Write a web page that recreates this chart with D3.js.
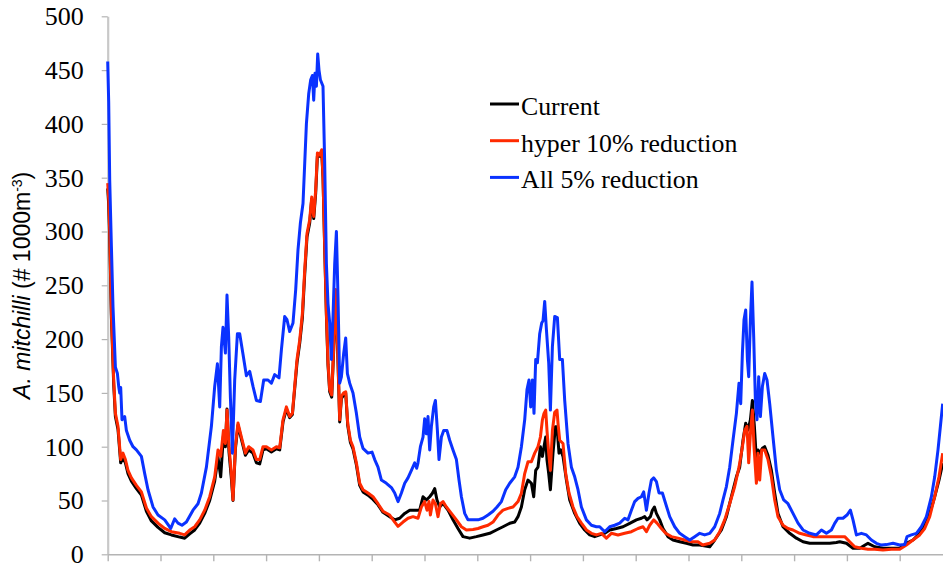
<!DOCTYPE html>
<html lang="en">
<head>
<meta charset="UTF-8">
<title>A. mitchilli</title>
<script src="https://cdn.jsdelivr.net/npm/d3@7"></script>
<style>
  body { margin: 0; background: #fff; }
  svg { display: block; }
</style>
</head>
<body>
<script>
// t = sample position along the run (unlabelled x axis), v = # per 1000 m^3
const current = [
  [0,340],[1,325],[2,295],[3.7,220],[6,158],[7.7,128],[10.3,116],[13,85],[15.3,90],[17.7,85],[20.3,75],[23.7,68],[28.7,61],[33.7,55],[38.7,40],[43.7,31],[50.3,25],[57,20],[63.7,18],[72,16],[77,15],[82,19],[87,22.6],[92,29],[97,38],[102,50],[107,68],[110.3,90],[113,72],[115.7,110],[117.7,100],[119.3,135],[121.3,95],[123.7,70],[125.3,50],[127.7,98],[130.3,120],[133.7,107],[137.7,92],[141,97],[145.3,94],[148.7,85],[152,84],[155.3,97],[158.7,98],[163.7,95],[168.7,98],[172,97],[175.3,123],[178.7,135],[182,127],[184.7,130],[187,154],[189.3,178],[192,196],[194.7,220],[197,260],[199.3,295],[202,308],[204,330],[206,312],[208,336],[209.7,370],[212,370],[214,374],[215.3,350],[217,284],[218.7,222],[220.3,176],[222,151],[224,146],[226,190],[228,244],[230,188],[232,123],[233.7,145],[236,148],[238,150],[240,120],[242.7,104],[245.3,98],[248.7,83],[252,64],[255.3,58],[260.3,55],[265.3,51],[270.3,46],[275.3,39],[282,35],[287,32],[292,33.5],[297,38],[302,41],[307,41],[312,41],[315.3,53.5],[318.7,50.5],[322,53.5],[324.7,56.7],[327,61],[329.3,50.5],[332,44],[335.3,47.4],[340.3,41],[345.3,32],[350.3,24],[355.3,16.4],[362,15],[368.7,16.4],[375.3,18],[382,19.5],[388.7,22.6],[395.3,25.6],[402,28.8],[407,30],[410.3,35],[413.7,44],[417,60],[420.3,69],[423.7,66],[426,53.5],[428,78],[430.3,81],[432.7,100],[434.7,91],[436.3,100],[438,109],[439.3,87.6],[441,75],[442.7,60],[445.3,94],[447.7,118.6],[449.3,118.6],[451.3,94],[453,97],[455.3,91],[458.7,69],[462,50.5],[467,38],[472,28.8],[477,22.6],[482,18],[487,16.4],[492,18],[497,19.5],[502,22.6],[508.7,24],[515.3,25.6],[522,28.8],[528.7,32],[533.7,33.5],[537,35],[539.3,32],[542.7,35],[544.7,41],[546.7,44],[548.7,38],[552,32],[555.3,24],[560.3,16.4],[565.3,13.3],[572,11.7],[578.7,10.2],[585.3,8.6],[592,8.6],[602,7],[607,13.3],[613.7,22.6],[618.7,35],[623.7,53.5],[628.7,72],[632,81],[635.3,106],[638,121.7],[640.3,115.5],[642.7,125],[644.7,143],[646.7,118.6],[648.7,87.6],[650.3,97],[652,94],[654.7,98.5],[657,100],[660.3,92],[663.7,78],[667,56.7],[670.3,38],[675.3,25.6],[682,19.5],[688.7,15],[695.3,11.7],[702,10.2],[712,10.2],[722,10.2],[728.7,11],[732,11.7],[738.7,10.2],[745.3,5.6],[752,5.6],[760.3,10.2],[767,7],[775.3,5.6],[783.7,5.6],[792,5.6],[798.7,10.2],[805.3,13.3],[812,19.5],[817,27],[822,38],[827,53.5],[831.3,69],[835,84.6]
];

const hyper10 = [
  [0,345],[1,330],[2,300],[3.7,224],[6,162],[7.7,131],[10.3,119],[13,88],[15.3,94],[17.7,88],[20.3,78],[23.7,71],[28.7,64],[33.7,58],[38.7,43],[43.7,35],[50.3,29],[57,24],[63.7,21],[72,19.5],[77,18],[82,22.6],[87,25.6],[92,32],[97,41],[102,53.5],[107,72],[110.3,97],[113,91],[115.7,115],[117.7,103],[119.3,134],[121.3,100],[123.7,75],[125.3,50.5],[127.7,100],[130.3,122],[133.7,109],[137.7,94],[141,100],[145.3,97],[148.7,88],[152,88],[155.3,100],[158.7,100],[163.7,97],[168.7,100],[172,99],[175.3,125],[178.7,137],[182,128],[184.7,131],[187,156],[189.3,181],[192,199],[194.7,224],[197,264],[199.3,298],[202,311],[204,332],[206,314],[208,339],[209.7,373],[212,371],[214,376],[215.3,351],[217,286],[218.7,224],[220.3,178],[222,153],[224,148],[226,193],[228,246],[230,190],[232,125],[233.7,147],[236,150],[238,151],[240,122],[242.7,106],[245.3,100],[248.7,85],[252,66],[255.3,60],[260.3,57],[265.3,53.5],[270.3,47],[275.3,40],[282,36.5],[287,30],[290.3,26],[295.3,30],[300.3,33.5],[305.3,35],[310.3,33.5],[313.7,44],[317,49],[319.3,41],[321.3,49],[322.7,36.5],[325.3,50.5],[327.7,47],[330.3,35],[332.7,47],[335.3,49],[338.7,44],[343.7,38],[348.7,32],[353.7,25.6],[358.7,22.6],[365.3,23],[370.3,24],[375.3,25.6],[380.3,27],[385.3,30],[390.3,36.5],[395.3,41],[400.3,42.7],[405.3,44],[410.3,49],[413.7,56.7],[417,75],[420.3,86],[423.7,86],[427,94],[430.3,100],[432.7,109],[434.7,125],[436.3,131],[438,134],[439.3,115],[441,94],[442.7,78],[444.7,115],[447,132],[449.3,134],[450.3,122],[452,106],[455.3,103],[458,75],[461.3,57],[465.3,44],[469.3,35],[473.7,29],[478.7,22.6],[483.7,19.5],[488.7,18],[493.7,19.5],[498.7,15],[503.7,19.5],[510.3,18],[517,19.5],[523.7,21],[530.3,24],[535.3,25.6],[538.7,21],[542,27],[546,32],[549.3,29],[553.7,24],[558,19.5],[563.7,16.4],[570.3,15],[577,13.3],[583.7,11.7],[590.3,11.7],[595,8.6],[602,10.2],[607,13.3],[612,21],[617,32],[622,47],[627,63],[631.3,81],[634.7,100],[637,115],[639.3,119],[641,85],[642.7,112],[644.7,134],[646.3,100],[648.7,66],[650.3,94],[652,69],[654,97],[657,97],[660.3,88],[663.7,72],[667,50.5],[670.3,35],[675.3,27],[680.3,24],[685.3,22.6],[692,19.5],[698.7,18],[705.3,16.4],[712,16.4],[718.7,16.4],[725.3,16.4],[732,16.4],[737,16.4],[742,11.7],[747,7],[753.7,5.6],[760.3,4.6],[767,4.6],[775.3,4],[783.7,4.6],[792,4.6],[798.7,8.6],[805.3,13.3],[812,18],[817,24],[822,35],[827,53.5],[831.3,72],[835,94]
];

const all5 = [
  [0,458],[1,420],[2,348],[3.7,286],[5.3,230],[7.7,174],[9.7,168],[11,156],[12,150],[13,155],[14.3,125],[17,128],[18.7,115],[22,106],[25.3,100],[28.7,97],[33.7,91],[37,75],[40.3,60],[45.3,44],[50.3,36.5],[57,32],[63,24],[67,33],[70.3,29],[74.3,27],[78.7,30],[85.3,41],[90.3,47],[93.7,57],[98.7,81],[103.7,119],[107,156],[109.7,177],[112,137],[113.7,193],[115.3,211],[117.7,187],[119.3,241],[121,202],[122.7,146],[124.7,94],[127,162],[129.7,205],[132,205],[135.3,186],[138.7,166],[142,170],[145.3,156],[148.7,143],[152.7,142],[156,162],[160.3,162],[163.7,159],[167,167],[171.3,164],[173.7,190],[177,221],[179.3,218],[182,207],[185.3,215],[188,246],[190.3,283],[192.7,308],[195.3,326],[197,363],[198.7,400],[201,428],[203,441],[204.7,445],[206,422],[207.3,447],[208.7,435],[210,465],[211.3,450],[212.7,441],[215.3,435],[217,363],[218.7,270],[220.3,233],[222,215],[223.7,181],[225.3,221],[227,270],[228.7,300],[230.3,239],[232,159],[233.7,165],[236,187],[238,201],[239.7,168],[242,159],[245.3,150],[248.7,131],[252,109],[255.3,98.5],[260.3,94],[264.3,95],[267,88],[270.3,81],[273.7,69],[278.7,66],[283.7,62],[287,57],[290.3,49],[293.7,57],[297,66],[300.3,71],[303.7,78],[307,85],[309,80],[310.3,85],[312.7,100],[315.3,109],[317,126],[318.7,112],[320.3,128],[322,97],[323.7,119],[326,137],[327.7,143],[329.7,115],[331.3,88],[333.7,109],[336,115],[339.3,115],[342,106],[345.3,97],[348.7,88],[351.3,69],[353.7,53.5],[357,38],[360.3,32],[365.3,32],[370.3,32],[375.3,33.5],[380.3,36.5],[385.3,40],[389.3,44],[393.7,49],[398,60],[402,66],[407,72],[410.3,81],[413.7,100],[417,125],[419.3,153],[421.3,162],[423,137],[424.7,162],[426.3,131],[428,181],[429.7,178],[432,205],[434,215],[435.3,217],[437,235],[438.7,209],[441,178],[442.7,134],[444.7,193],[447,221],[449.7,220],[452,181],[454.7,181],[457,143],[460.3,103],[463.7,81],[467,72],[470.3,60],[473.7,44],[478.7,32],[483.7,27],[488.7,25.6],[492,25.6],[497,21],[502,25.6],[507,27],[512,29],[517,33.5],[520.3,32],[523.7,41],[527,49],[530.3,52],[533.7,53.5],[536,58],[538.7,41],[541.3,57],[543.7,69],[546,71],[548.7,67.5],[551.3,57],[554.7,57],[558,47],[562,35],[567,25.6],[572,19.5],[577,16.4],[582,13.3],[587,16.4],[592,19.5],[597,18],[602,19.5],[607,25.6],[612,38],[615.3,50.5],[618.7,63],[622,81],[625.3,106],[628.7,131],[631.3,159],[633,140],[634.7,187],[636.3,218],[638,227],[639.7,181],[641,165],[642.7,218],[644.3,253],[646,202],[647.7,143],[649.3,125],[651,165],[652.7,128],[654.7,156],[657,168],[659.3,162],[662,140],[665.3,109],[668.7,78],[672,60],[676,50.5],[680.3,47],[685.3,38],[690.3,29],[695.3,22.6],[702,19.5],[708.7,18],[713.7,22.6],[718.7,19.5],[723.7,22.6],[727,28.8],[730.3,33.5],[735.3,33.5],[739.3,36.5],[742.7,41],[745.3,32],[748.7,18],[753.7,19.5],[758.7,18],[763.7,13.3],[768.7,10.2],[773.7,8.6],[778.7,9],[785.3,10.2],[792,8.6],[797,9],[799.3,16.4],[803.7,18],[808.7,19.5],[813.7,25.6],[818.7,35],[823.7,53.5],[827,72],[830.3,97],[832.7,119],[835,140]
];

const seriesNames = ['Current', 'hyper 10% reduction', 'All 5% reduction'];
const seriesColors = ['#000000', '#ff2a00', '#0a32ff'];
const yTicks = [0, 50, 100, 150, 200, 250, 300, 350, 400, 450, 500];
const xTicks = d3.range(0, 836, 52.8);

const width = 943;
const height = 568;
const margin = { top: 16.3, right: 0, bottom: 13.7, left: 107.7 };
const serif = '"Liberation Serif", "Times New Roman", serif';

const svg = d3.select('body')
  .append('svg')
  .attr('width', width)
  .attr('height', height);

const xScale = d3.scaleLinear()
  .domain([0, 835.3])
  .range([margin.left, width - margin.right]);

const yScale = d3.scaleLinear()
  .domain([0, 500])
  .range([height - margin.bottom, margin.top]);

// y axis
const yAxis = svg.append('g')
  .attr('transform', `translate(${margin.left},0)`)
  .call(d3.axisLeft(yScale).tickValues(yTicks).tickSize(6).tickSizeOuter(0).tickPadding(18))
  .attr('font-family', serif)
  .attr('font-size', 26);
yAxis.select('.domain').attr('stroke', '#c8c8c8').attr('stroke-width', 2.2);
yAxis.selectAll('.tick line').attr('stroke', '#b4b4b4').attr('stroke-width', 1.2);
yAxis.selectAll('.tick text')
  .attr('fill', '#000')
  .attr('font-family', serif)
  .attr('font-size', 26);

// x axis, no labels
const xAxis = svg.append('g')
  .attr('transform', `translate(0,${yScale(0)})`)
  .call(d3.axisBottom(xScale).tickValues(xTicks).tickFormat('').tickSize(7).tickSizeOuter(0));
xAxis.select('.domain').attr('stroke', '#b4b4b4').attr('stroke-width', 1.6);
xAxis.selectAll('.tick line').attr('stroke', '#b4b4b4').attr('stroke-width', 1.4);

// y label
const yLabel = svg.append('text')
  .attr('transform', `translate(30,${(yScale(0) + yScale(500)) / 2}) rotate(-90)`)
  .attr('text-anchor', 'middle')
  .attr('font-family', '"Liberation Sans", Arial, sans-serif')
  .attr('font-size', 23)
  .attr('fill', '#000');
yLabel.append('tspan').attr('font-style', 'italic').text('A. mitchilli');
yLabel.append('tspan').text(' (# 1000m');
yLabel.append('tspan').attr('font-size', 14).attr('dy', -8).text('-3');
yLabel.append('tspan').attr('dy', 8).text(')');

// lines
const line = d3.line()
  .x(d => xScale(d[0]))
  .y(d => yScale(d[1]));

const allSeries = [current, hyper10, all5];
allSeries.forEach((s, i) => {
  svg.append('path')
    .datum(s)
    .attr('fill', 'none')
    .attr('stroke', seriesColors[i])
    .attr('stroke-width', 3)
    .attr('stroke-linejoin', 'round')
    .attr('d', line);
});

// legend
const legendX = 490;
const legendY = 104;
const legendGap = 36.7;
seriesNames.forEach((name, i) => {
  svg.append('line')
    .attr('x1', legendX)
    .attr('x2', legendX + 29)
    .attr('y1', legendY + i * legendGap)
    .attr('y2', legendY + i * legendGap)
    .attr('stroke', seriesColors[i])
    .attr('stroke-width', 3);
  svg.append('text')
    .attr('x', legendX + 31)
    .attr('y', legendY + i * legendGap + 11)
    .attr('font-family', serif)
    .attr('font-size', 25.8)
    .attr('fill', '#000')
    .text(name);
});
</script>
</body>
</html>
